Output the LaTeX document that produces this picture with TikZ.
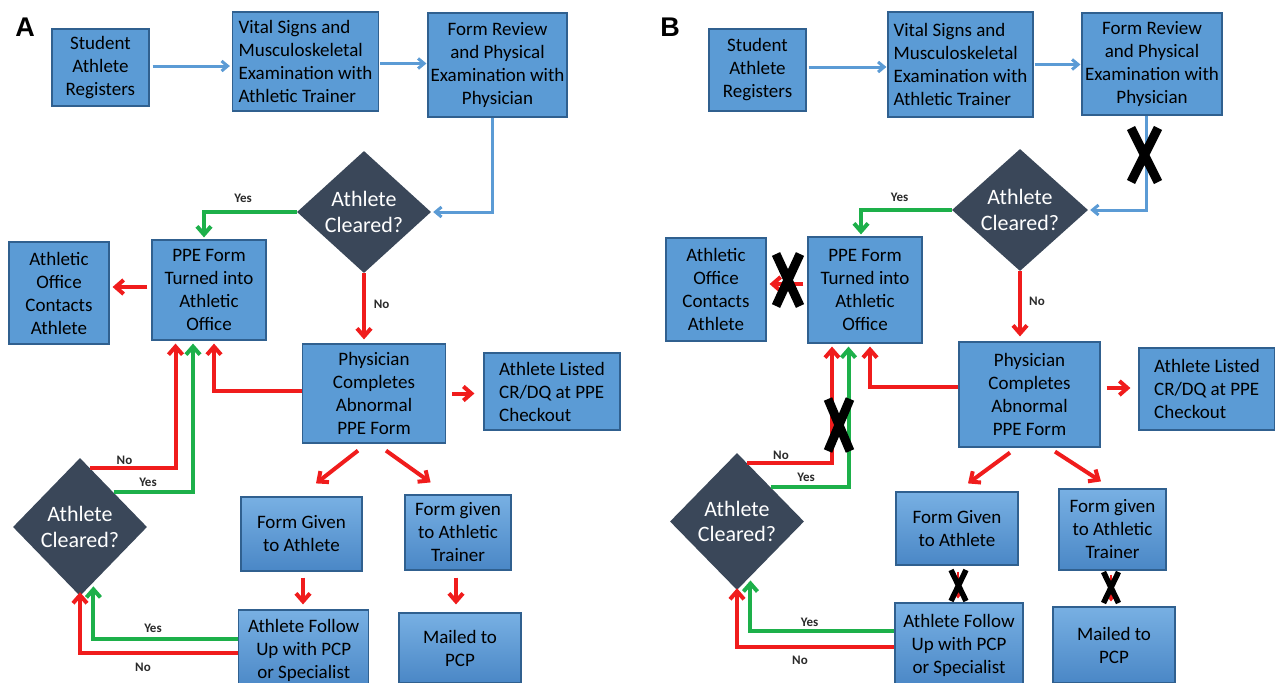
\documentclass[tikz,border=0pt]{standalone}
\usepackage{fontspec}
\setmainfont{Carlito}
\newfontfamily\labelfont{Liberation Sans}
\usetikzlibrary{arrows.meta,shapes.geometric,calc}
\definecolor{boxc}{HTML}{5B9BD5}
\definecolor{bordc}{HTML}{30608F}
\definecolor{gtop}{HTML}{78B0E3}
\definecolor{gbot}{HTML}{4A87C6}
\definecolor{diac}{HTML}{3A4759}
\definecolor{bluec}{HTML}{5B9BD5}
\definecolor{redc}{HTML}{F01C1C}
\definecolor{greenc}{HTML}{1DB04A}
\definecolor{lblc}{HTML}{2A2A2A}
\newcommand{\boxfont}{\fontsize{19}{23}\selectfont}
\newcommand{\diafont}{\fontsize{22}{25.5}\selectfont}
\newcommand{\lblfont}{\bfseries\fontsize{13}{15}\selectfont}
\tikzset{
  box/.style={draw=bordc, line width=1.2pt, fill=boxc, align=center, inner sep=0pt, font=\boxfont, text=black},
  gbox/.style={box, top color=gtop, bottom color=gbot},
  dia/.style={diamond, fill=diac, inner sep=0pt},
  diatxt/.style={font=\diafont, text=white, align=center},
  lbl/.style={font=\lblfont, text=lblc},
  rtip/.style={-{Straight Barb[length=8pt,width=14pt,line width=4pt]}},
  btip/.style={-{Straight Barb[length=6pt,width=10pt,line width=3pt]}},
  bline/.style={draw=bluec, line width=3pt, btip},
  rline/.style={draw=redc, line width=4pt, rtip},
  gline/.style={draw=greenc, line width=4pt, rtip},
  rthin/.style={draw=redc, line width=2pt, -{Straight Barb[length=4pt,width=7pt,line width=2pt]}},
  xmark/.style={draw=black, line width=9pt},
  xsmall/.style={draw=black, line width=5.5pt},
  panel/.style={font=\labelfont\bfseries\fontsize{27}{30}\selectfont}
}
\begin{document}
\begin{tikzpicture}[x=1pt,y=-1pt]
\useasboundingbox (0,0) rectangle (1275,683);
\clip (0,0) rectangle (1275,683);
\fill[white] (0,0) rectangle (1275,683);

% ---------------- Panel A ----------------
\node[panel] (labA) at (25,27) {A};
\node[box, minimum width=97pt, minimum height=77pt] (s1A) at (100.4,67.5) {Student\\Athlete\\Registers};
\node[box, align=left, minimum width=146pt, minimum height=99pt] (s2A) at (305.5,61.5) {Vital Signs and\\Musculoskeletal\\Examination with\\Athletic Trainer};
\node[box, minimum width=139pt, minimum height=104pt] (s3A) at (497.5,65) {Form Review\\and Physical\\Examination with\\Physician};
\node[dia, minimum width=134pt, minimum height=122pt] (d1A) at (364,212) {};
\node[diatxt] (d1At) at (d1A) {Athlete\\Cleared?};
\node[box, minimum width=114pt, minimum height=100pt] (ppeA) at (209,290) {PPE Form\\Turned into\\Athletic\\Office};
\node[box, minimum width=100pt, minimum height=102pt] (offA) at (59,293) {Athletic\\Office\\Contacts\\Athlete};
\node[box, minimum width=143pt, minimum height=99pt] (physA) at (374,393.5) {Physician\\Completes\\Abnormal\\PPE Form};
\node[box, align=left, minimum width=136pt, minimum height=77pt] (listA) at (552,391.5) {Athlete Listed\\CR/DQ at PPE\\Checkout};
\node[gbox, minimum width=121pt, minimum height=74pt] (fgA) at (301.4,534) {Form Given\\to Athlete};
\node[gbox, minimum width=106pt, minimum height=75pt] (ftA) at (458,532.5) {Form given\\to Athletic\\Trainer};
\node[gbox, minimum width=130pt, minimum height=80pt] (fuA) at (303.7,650) {Athlete Follow\\Up with PCP\\or Specialist};
\node[gbox, minimum width=122pt, minimum height=70pt] (mailA) at (460,648) {Mailed to\\PCP};
\node[dia, minimum width=134pt, minimum height=138pt] (d2A) at (80,527) {};
\node[diatxt] (d2At) at (d2A) {Athlete\\Cleared?};

\draw[bline, shorten <=3pt, shorten >=2pt] ([yshift=1.5pt]s1A.east) -- ([yshift=1.5pt]s1A.east -| s2A.west);
\draw[bline, shorten <=1pt, shorten >=1pt] ([yshift=-2pt]s2A.east) -- ([yshift=-2pt]s2A.east -| s3A.west);
\draw[bline, shorten >=2pt] ([xshift=-5pt]s3A.south) |- (d1A.east);
\draw[gline, shorten >=2pt] (d1A.west) -| ([xshift=-5pt]ppeA.north);
\node[lbl] (yA1) at (243,198) {Yes};
\draw[rline, shorten <=4pt, shorten >=3pt] ([yshift=3pt]ppeA.west) -- ([yshift=3pt]ppeA.west -| offA.east);
\draw[rline, shorten >=4pt] (d1A.south) -- (d1A.south |- physA.north);
\node[lbl] (nA1) at (381.6,304) {No};
\draw[rline, shorten <=6pt, shorten >=9pt] (physA.east) -- (physA.east -| listA.west);
\draw[rline, shorten >=3pt] ([yshift=2.5pt]physA.west) -| ([xshift=5pt]ppeA.south);
\draw[rline] ($(physA.south)+(-16,7)$) -- ($(fgA.north)+(14.6,-13)$);
\draw[rline] ($(physA.south)+(12,7)$) -- ($(ftA.north)+(-27.4,-12)$);
\draw[rline, shorten <=6pt, shorten >=5pt] ([xshift=1.6pt]fgA.south) -- ([xshift=1.6pt]fgA.south |- fuA.north);
\draw[rline, shorten <=7pt, shorten >=8pt] ([xshift=-2pt]ftA.south) -- ([xshift=-2pt]ftA.south |- mailA.north);
\draw[rline, shorten >=3pt] ($(d2A.north)!0.15!(d2A.east)$) -| ([xshift=-33.5pt]ppeA.south);
\node[lbl] (nA2) at (124.5,460) {No};
\draw[gline, shorten >=3pt] (d2A.north east) -| ([xshift=-16pt]ppeA.south);
\node[lbl] (yA2) at (148,482) {Yes};
\draw[gline, shorten >=4pt] ([yshift=11pt]fuA.west) -| ($(d2A.south)!0.2!(d2A.east)$);
\node[lbl] (yA3) at (153,628) {Yes};
\draw[rline, shorten >=-4pt] ([yshift=-3pt]fuA.west) -| (d2A.south);
\node[lbl] (nA3) at (143,667) {No};

% ---------------- Panel B ----------------
\node[panel] (labB) at (670,27) {B};
\node[box, minimum width=97pt, minimum height=82pt] (s1B) at (757.5,70) {Student\\Athlete\\Registers};
\node[box, align=left, minimum width=145pt, minimum height=105pt] (s2B) at (960.5,64.5) {Vital Signs and\\Musculoskeletal\\Examination with\\Athletic Trainer};
\node[box, minimum width=140pt, minimum height=102pt] (s3B) at (1152,64) {Form Review\\and Physical\\Examination with\\Physician};
\node[dia, minimum width=136pt, minimum height=122pt] (d1B) at (1020,210) {};
\node[diatxt] (d1Bt) at (d1B) {Athlete\\Cleared?};
\node[box, minimum width=114pt, minimum height=106pt] (ppeB) at (865,290) {PPE Form\\Turned into\\Athletic\\Office};
\node[box, minimum width=100pt, minimum height=103pt] (offB) at (716,289.5) {Athletic\\Office\\Contacts\\Athlete};
\node[box, minimum width=141pt, minimum height=105pt] (physB) at (1029.5,394.5) {Physician\\Completes\\Abnormal\\PPE Form};
\node[box, align=left, minimum width=136pt, minimum height=82pt] (listB) at (1207,389) {Athlete Listed\\CR/DQ at PPE\\Checkout};
\node[gbox, minimum width=122pt, minimum height=73pt] (fgB) at (957,528.5) {Form Given\\to Athlete};
\node[gbox, minimum width=107pt, minimum height=81pt] (ftB) at (1112.5,529.5) {Form given\\to Athletic\\Trainer};
\node[gbox, minimum width=128pt, minimum height=84pt] (fuB) at (959,645) {Athlete Follow\\Up with PCP\\or Specialist};
\node[gbox, minimum width=122pt, minimum height=76pt] (mailB) at (1114,645) {Mailed to\\PCP};
\node[dia, minimum width=134pt, minimum height=137pt] (d2B) at (737,521.5) {};
\node[diatxt] (d2Bt) at (d2B) {Athlete\\Cleared?};

\draw[bline, shorten <=2pt, shorten >=1pt] ([yshift=3pt]s1B.east) -- ([yshift=3pt]s1B.east -| s2B.west);
\draw[bline, shorten <=1pt, shorten >=1pt] (s2B.east) -- (s2B.east -| s3B.west);
\draw[bline, shorten >=2pt] ([xshift=-6pt]s3B.south) |- (d1B.east);
\draw[gline, shorten >=2pt] (d1B.west) -| ([xshift=-4pt]ppeB.north);
\node[lbl] (yB1) at (899.5,197) {Yes};
\draw[rline, shorten <=4pt, shorten >=3pt] ([yshift=6pt]ppeB.west) -- ([yshift=6pt]ppeB.west -| offB.east);
\draw[rline, shorten >=5pt] (d1B.south) -- (d1B.south |- physB.north);
\node[lbl] (nB1) at (1037,301) {No};
\draw[rline, shorten <=6pt, shorten >=8pt] ([yshift=6.5pt]physB.east) -- ([yshift=6.5pt]physB.east -| listB.west);
\draw[rline, shorten >=3pt] ([yshift=7.5pt]physB.west) -| ([xshift=5pt]ppeB.south);
\draw[rline] ($(physB.south)+(-19.5,5)$) -- ($(fgB.north)+(11,-8)$);
\draw[rline] ($(physB.south)+(25.5,4)$) -- ($(ftB.north)+(-11.5,-7)$);
\draw[rthin, shorten <=6pt, shorten >=4pt] ([xshift=1pt]fgB.south) -- ([xshift=1pt]fgB.south |- fuB.north);
\draw[rthin, shorten <=4pt, shorten >=5pt] ([xshift=-1.5pt]ftB.south) -- ([xshift=-1.5pt]ftB.south |- mailB.north);
\draw[rline, shorten >=3pt] ($(d2B.north)!0.15!(d2B.east)$) -| ([xshift=-33pt]ppeB.south);
\node[lbl] (nB2) at (781,455) {No};
\draw[gline, shorten >=3pt] (d2B.north east) -| ([xshift=-16.5pt]ppeB.south);
\node[lbl] (yB2) at (806,477) {Yes};
\draw[gline, shorten >=4pt] ([yshift=14pt]fuB.west) -| ($(d2B.south)!0.2!(d2B.east)$);
\node[lbl] (yB3) at (809.5,622) {Yes};
\draw[rline, shorten >=-2pt] ([yshift=-2pt]fuB.west) -| (d2B.south);
\node[lbl] (nB3) at (800,660) {No};

% X marks
\draw[xmark] (1131,128) -- (1158,182) (1158,128) -- (1131,182);
\draw[xmark] (776,254) -- (800,306) (800,254) -- (776,306);
\draw[xmark] (828,399) -- (850,451) (850,399) -- (828,451);
\draw[xsmall] (951,570) -- (966,601) (966,570) -- (951,601);
\draw[xsmall] (1103.5,572) -- (1118.5,603) (1118.5,572) -- (1103.5,603);
\end{tikzpicture}
\end{document}
